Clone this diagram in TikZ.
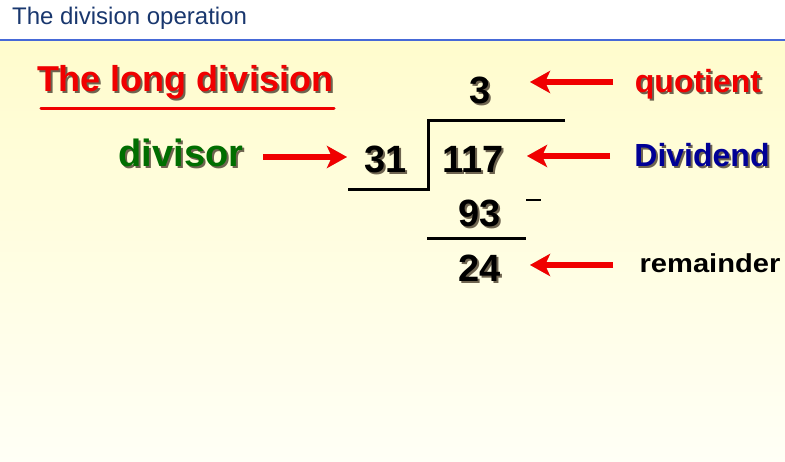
\documentclass[tikz,border=0pt]{standalone}
\usepackage{fontspec}
\setmainfont{Liberation Sans}
\usetikzlibrary{arrows.meta}
\definecolor{titleblue}{RGB}{25,55,110}
\definecolor{rulebl}{RGB}{70,105,215}
\definecolor{bgtop}{RGB}{255,252,205}
\definecolor{bgbot}{RGB}{255,255,246}
\definecolor{myred}{RGB}{240,0,0}
\definecolor{mygreen}{RGB}{0,110,0}
\definecolor{myblue}{RGB}{0,0,150}
\definecolor{shadowc}{RGB}{110,100,80}
\newcommand\shtext[5]{%
  \node[font=#3, text=#4, inner sep=0, anchor=base] (#1) at (#2)
   {\makebox[0pt][l]{\hspace{2pt}\raisebox{-2pt}{\textcolor{shadowc}{#5}}}#5};}
\tikzset{
  redarrow/.style={draw=myred, line width=6pt, -{Stealth[length=20pt, width=22pt, inset=5pt]}},
  arrowshadow/.style={draw=black!60, opacity=0.35, line width=6pt, -{Stealth[length=20pt, width=22pt, inset=5pt]}},
  divline/.style={draw=black, line width=3pt},
}
\begin{document}
\begin{tikzpicture}[x=1pt,y=-1pt]
\useasboundingbox (0,0) rectangle (785,462);
\fill[white] (0,0) rectangle (785,39);
\shade[top color=bgtop, bottom color=bgbot] (0,40.5) rectangle (785,462);
\fill[rulebl] (0,38.8) rectangle (785,40.6);
\node[font=\fontsize{24}{28}\selectfont, text=titleblue, anchor=base west, inner sep=0] (title) at (12,25) {The division operation};

% heading
\shtext{head}{185,92}{\bfseries\fontsize{36}{40}\selectfont}{myred}{The long division}
\coordinate (ul1) at (41,109);
\coordinate (ul2) at (334,109);
\draw[black!60, opacity=0.5, line width=3pt, line cap=round, xshift=1.5pt, yshift=-1.5pt] (ul1) -- (ul2);
\draw[myred, line width=3pt, line cap=round] (ul1) -- (ul2);

% digits
\shtext{q}{480,104}{\bfseries\fontsize{38}{42}\selectfont}{black}{3}
\shtext{dv}{386,173}{\bfseries\fontsize{38}{42}\selectfont}{black}{31}
\shtext{dd}{473,173}{\bfseries\fontsize{38}{42}\selectfont}{black}{117}
\shtext{sub}{480,227}{\bfseries\fontsize{38}{42}\selectfont}{black}{93}
\shtext{rem}{480,282}{\bfseries\fontsize{38}{42}\selectfont}{black}{24}

% division bracket
\coordinate (b1) at (565,121);
\coordinate (b2) at (428,121);
\coordinate (b3) at (428,190);
\coordinate (b4) at (348,190);
\draw[divline] (b1) -- (b2) -- (b3) -- (b4);
\coordinate (m1) at (526,200);
\coordinate (m2) at (541,200);
\draw[black, line width=2pt] (m1) -- (m2);
\coordinate (s1) at (427,239);
\coordinate (s2) at (526,239);
\draw[divline] (s1) -- (s2);

% labels
\shtext{lq}{698,93}{\bfseries\fontsize{32}{36}\selectfont}{myred}{quotient}
\shtext{ld}{702,167}{\bfseries\fontsize{32}{36}\selectfont}{myblue}{Dividend}
\shtext{lv}{181,167}{\bfseries\fontsize{38}{42}\selectfont}{mygreen}{divisor}
\node[font=\bfseries\fontsize{26}{30}\selectfont, text=black, inner sep=0, anchor=base] (lr) at (710,273) {\scalebox{1.12}[1]{remainder}};

% arrows
\coordinate (qa) at (613,82);
\coordinate (qb) at (530,82);
\coordinate (da) at (610,156);
\coordinate (db) at (527,156);
\coordinate (va) at (263,157);
\coordinate (vb) at (347,157);
\coordinate (ra) at (613,265);
\coordinate (rb) at (530,265);
\foreach \a/\b in {qa/qb, da/db, va/vb, ra/rb}{
  \draw[arrowshadow, xshift=2pt, yshift=-2pt] (\a) -- (\b);
  \draw[redarrow] (\a) -- (\b);
}
\end{tikzpicture}
\end{document}
